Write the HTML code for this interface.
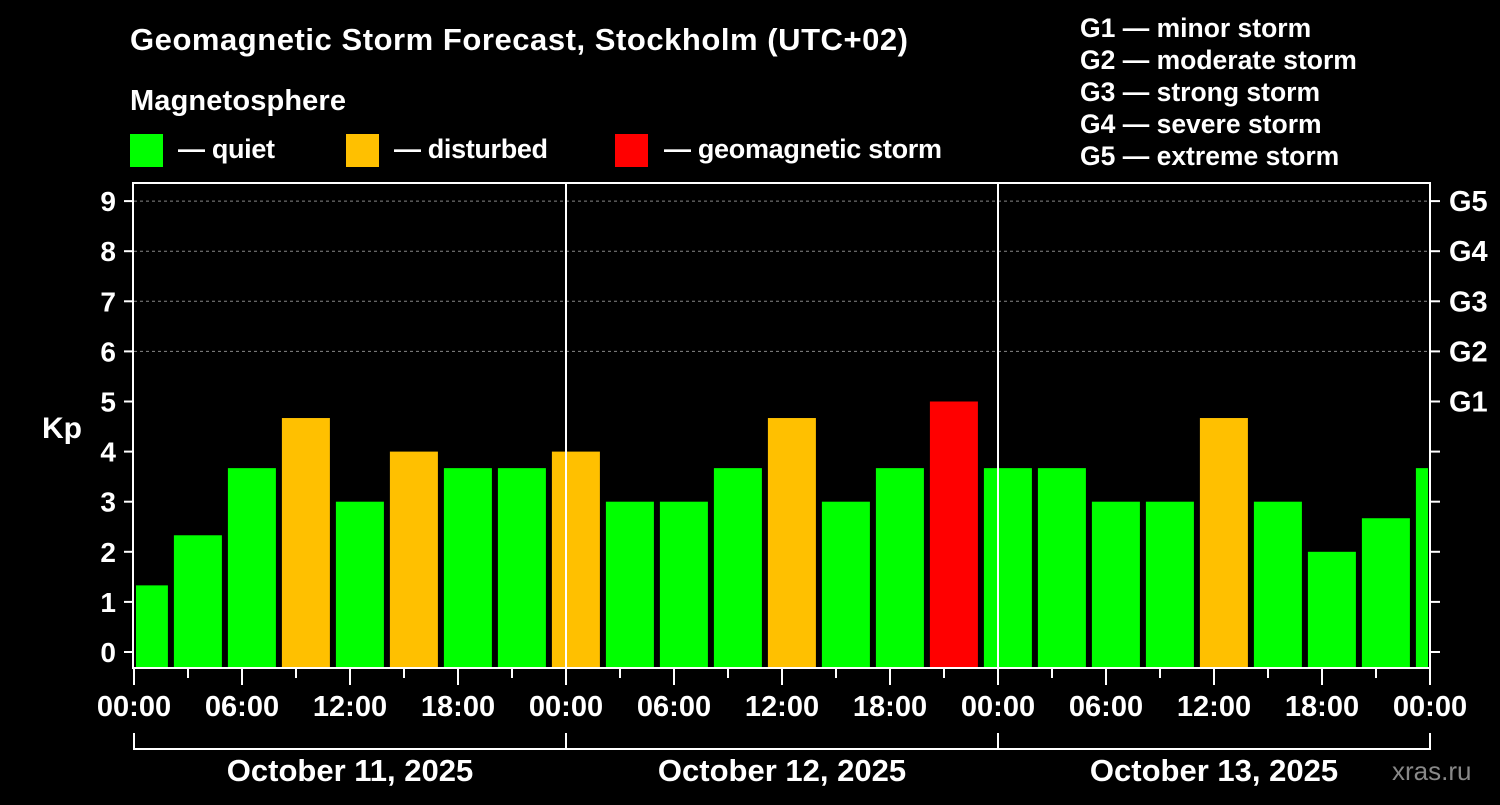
<!DOCTYPE html>
<html><head><meta charset="utf-8"><style>
body{margin:0;background:#000;width:1500px;height:800px;overflow:hidden}
svg text{font-family:"Liberation Sans",sans-serif;font-weight:bold;fill:#fff}
</style></head><body>
<svg id="c" width="1500" height="800">
<text x="130" y="50" font-size="31" textLength="778">Geomagnetic Storm Forecast, Stockholm (UTC+02)</text>
<text x="130" y="110" font-size="29" textLength="216">Magnetosphere</text>
<rect x="130" y="134" width="33" height="33" fill="#00ff00"/>
<text x="178" y="158" font-size="27" textLength="97">— quiet</text>
<rect x="346" y="134" width="33" height="33" fill="#ffc000"/>
<text x="394" y="158" font-size="27" textLength="154">— disturbed</text>
<rect x="615" y="134" width="33" height="33" fill="#ff0000"/>
<text x="664" y="158" font-size="27" textLength="278">— geomagnetic storm</text>
<g font-size="26.5">
<text x="1080" y="37">G1 — minor storm</text>
<text x="1080" y="69">G2 — moderate storm</text>
<text x="1080" y="101">G3 — strong storm</text>
<text x="1080" y="133">G4 — severe storm</text>
<text x="1080" y="165">G5 — extreme storm</text>
</g>
<text x="42" y="438" font-size="30">Kp</text>
<text x="1392" y="780" font-size="26" style="fill:#888;font-weight:normal">xras.ru</text>
<g id="g"></g>
</svg>
<script>
const kpValues=[1.33,2.33,3.67,4.67,3,4,3.67,3.67,4,3,3,3.67,4.67,3,3.67,5,3.67,3.67,3,3,4.67,3,2,2.67,3.67];
const yTicks=[0,1,2,3,4,5,6,7,8,9];
const gLabels=["G1","G2","G3","G4","G5"];
const xLabels=["00:00","06:00","12:00","18:00","00:00","06:00","12:00","18:00","00:00","06:00","12:00","18:00","00:00"];
const dayLabels=["October 11, 2025","October 12, 2025","October 13, 2025"];
const NS="http://www.w3.org/2000/svg",g=document.getElementById('g');
const X0=134,X1=1430,YT=183,YB=668;
const xs=h=>X0+h*18;
const ys=v=>652-v*50.1;
function el(t,a,txt){const e=document.createElementNS(NS,t);for(const k in a)e.setAttribute(k,a[k]);if(txt!=null)e.textContent=txt;g.appendChild(e);return e;}
for(let v=6;v<=9;v++){const l=el('line',{x1:X0,x2:X1,y1:ys(v),y2:ys(v),stroke:'#888','stroke-dasharray':'3,3'});

}
kpValues.forEach((v,i)=>{const c=i*3+0.55;let a=xs(c)-24,b=xs(c)+24;a=Math.max(a,X0+2);b=Math.min(b,X1-2);
const col=v>=5?'#ff0000':(v>=4?'#ffc000':'#00ff00');
const r=el('rect',{x:a,y:ys(v),width:b-a,height:YB-ys(v),fill:col});

});
[24,48].forEach(h=>{const l=el('line',{x1:xs(h),x2:xs(h),y1:YT,y2:YB,stroke:'#fff','stroke-width':2});

});
const f=el('rect',{x:X0-1,y:YT,width:X1-X0+1,height:YB-YT,fill:'none',stroke:'#fff','stroke-width':2});


yTicks.forEach(v=>{el('line',{x1:X0-10,x2:X0,y1:ys(v),y2:ys(v),stroke:'#fff','stroke-width':2});
el('line',{x1:X1,x2:X1+10,y1:ys(v),y2:ys(v),stroke:'#fff','stroke-width':2});
const t=el('text',{x:X0-18,y:ys(v)+10,'font-size':28,'text-anchor':'end'},v);

});
gLabels.forEach((s,i)=>{const t=el('text',{x:X1+19,y:ys(5+i)+10,'font-size':29},s);

});
for(let h=0;h<=72;h+=3){const maj=h%6==0;el('line',{x1:xs(h),x2:xs(h),y1:YB,y2:YB+(maj?17:10),stroke:'#fff','stroke-width':2});}
xLabels.forEach((s,i)=>{const t=el('text',{x:xs(i*6),y:716,'font-size':29,'text-anchor':'middle'},s);

});
el('line',{x1:X0,x2:X1,y1:749,y2:749,stroke:'#fff','stroke-width':2});
[0,24,48,72].forEach(h=>el('line',{x1:xs(h),x2:xs(h),y1:733,y2:750,stroke:'#fff','stroke-width':2}));
dayLabels.forEach((s,i)=>{const t=el('text',{x:xs(i*24+12),y:781,'font-size':31,'text-anchor':'middle'},s);

});
</script>
</body></html>
